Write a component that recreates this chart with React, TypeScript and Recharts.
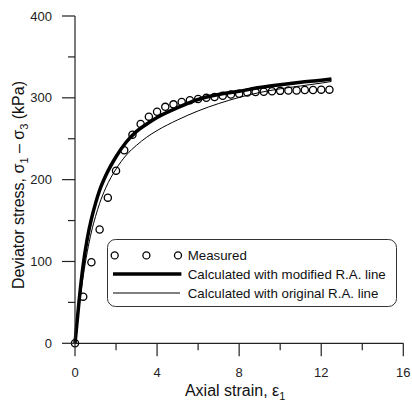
import React, { useLayoutEffect } from 'react';
import { ComposedChart, Line, Scatter, XAxis, YAxis, Legend, Label } from 'recharts';

function fixPage() {
  if (typeof document === 'undefined') return;
  document.documentElement.style.overflow = 'hidden';
  if (document.body) {
    document.body.style.width = '404px';
    document.body.style.minWidth = '404px';
  }
  const root = document.getElementById('root');
  if (root) {
    root.style.width = '404px';
  }
}
fixPage();

// Measured points (axial strain %, deviator stress kPa)
const measuredStrain = [0, 0.4, 0.8, 1.2, 1.6, 2.0, 2.4, 2.8, 3.2, 3.6, 4.0, 4.4, 4.8, 5.2, 5.6, 6.0, 6.4, 6.8, 7.2, 7.6, 8.0, 8.4, 8.8, 9.2, 9.6, 10.0, 10.4, 10.8, 11.2, 11.6, 12.0, 12.4];
const measuredStress = [0, 57, 99, 139, 178, 211, 236, 255, 268, 277, 283, 289, 292, 295, 297, 298.5, 300, 301, 302.5, 304, 305, 306.5, 307, 307.5, 308, 308.5, 309, 309, 309.5, 309.5, 310, 310];

// Calculated curves
const calcStrain = [0, 0.2, 0.4, 0.6, 0.8, 1.0, 1.2, 1.5, 2.0, 2.5, 3.0, 3.5, 4.0, 5.0, 6.0, 7.0, 8.0, 9.0, 10.0, 11.0, 12.0, 12.5];
const modifiedStress = [0, 52, 96, 128, 152, 171, 187, 205, 228, 246, 259, 268, 276, 288, 298, 304, 308, 312.5, 316, 319, 321.5, 323];
const originalStress = [0, 45, 82, 112, 136, 155, 171, 190, 213, 230, 242, 252, 260, 273, 284, 293, 300.5, 306.5, 311, 314.5, 318, 320];

const xTicks = [0, 2, 4, 6, 8, 10, 12, 14, 16];
const xLabeled = [0, 4, 8, 12, 16];
const yTicks = [0, 50, 100, 150, 200, 250, 300, 350, 400];
const yLabeled = [0, 100, 200, 300, 400];

const legendLabels = ['Measured', 'Calculated with modified R.A. line', 'Calculated with original R.A. line'];

const measuredData = measuredStrain.map((x, i) => ({ x, y: measuredStress[i] }));
const modifiedData = calcStrain.map((x, i) => ({ x, y: modifiedStress[i] }));
const originalData = calcStrain.map((x, i) => ({ x, y: originalStress[i] }));

const FONT = '"Liberation Sans", Arial, sans-serif';
const AXIS = '#222';
const MAJOR = 13;
const MINOR = 7;
const XGAP = 11;
const YGAP = 10;

function XTick(props: any) {
  const { x, y, payload } = props;
  const axisY = y - MAJOR - XGAP;
  const major = xLabeled.includes(payload.value);
  return (
    <g>
      <line x1={x} x2={x} y1={axisY} y2={axisY + (major ? MAJOR : MINOR)} stroke={AXIS} strokeWidth={1.2} />
      {major && (
        <text x={x} y={y} dy="0.71em" textAnchor="middle" fontSize={13} fill="#222" fontFamily={FONT}>
          {payload.value}
        </text>
      )}
    </g>
  );
}

function YTick(props: any) {
  const { x, y, payload } = props;
  const axisX = x + MAJOR + YGAP;
  const major = yLabeled.includes(payload.value);
  return (
    <g>
      <line x1={axisX} x2={axisX - (major ? MAJOR : MINOR)} y1={y} y2={y} stroke={AXIS} strokeWidth={1.2} />
      {major && (
        <text x={x} y={y} dy="0.355em" textAnchor="end" fontSize={13} fill="#222" fontFamily={FONT}>
          {payload.value}
        </text>
      )}
    </g>
  );
}

function XTitle(props: any) {
  const vb = props.viewBox || { x: 67, y: 335, width: 328, height: 60 };
  const cx = vb.x + vb.width / 2 - 4;
  const cy = vb.y + 52.7;
  return (
    <text x={cx} y={cy} textAnchor="middle" fontSize={16} fill="#111" fontFamily={FONT}>
      Axial strain, ε<tspan fontSize={11} dy={4}>1</tspan>
    </text>
  );
}

function YTitle(props: any) {
  const vb = props.viewBox || { x: 0, y: 8, width: 67, height: 327 };
  const cx = vb.x + 16.5;
  const cy = vb.y + vb.height / 2 + 5.4;
  return (
    <text x={cx} y={cy} textAnchor="middle" fontSize={16} fill="#111" fontFamily={FONT} transform={`rotate(-90, ${cx}, ${cy})`}>
      Deviator stress, σ<tspan fontSize={11} dy={4}>1</tspan>
      <tspan dy={-4}> – σ</tspan>
      <tspan fontSize={11} dy={4}>3</tspan>
      <tspan dy={-4}> (kPa)</tspan>
    </text>
  );
}

function LegendBox() {
  const w = 290;
  const h = 68;
  const tx = 80.7;
  return (
    <svg width={w} height={h} style={{ display: 'block', overflow: 'visible' }}>
      <rect x={0.5} y={0.5} width={w - 1} height={h - 1} rx={8} ry={8} fill="#fff" stroke="#333" strokeWidth={1} />
      {[7.7, 39.4, 71].map((cx) => (
        <circle key={cx} cx={cx} cy={16.4} r={3.5} fill="none" stroke="#000" strokeWidth={1.3} />
      ))}
      <line x1={6} x2={74.4} y1={35} y2={35} stroke="#000" strokeWidth={3.5} />
      <line x1={6} x2={73} y1={54} y2={54} stroke="#000" strokeWidth={1} />
      {legendLabels.map((t, i) => (
        <text key={t} x={tx} y={20.7 + i * 18.9} fontSize={13.3} fill="#111" fontFamily={FONT}>
          {t}
        </text>
      ))}
    </svg>
  );
}

export default function App() {
  useLayoutEffect(() => {
    fixPage();
  }, []);
  return (
    <div style={{ width: 404, height: 395, background: '#fff' }}>
      <ComposedChart width={404} height={395} margin={{ top: 8, right: 8.7, bottom: 0, left: 0 }}>
        <XAxis
          dataKey="x"
          type="number"
          domain={[0, 16]}
          ticks={xTicks}
          interval={0}
          height={59.7}
          tickSize={MAJOR}
          tickMargin={XGAP}
          tickLine={false}
          axisLine={{ stroke: AXIS, strokeWidth: 1.2 }}
          tick={<XTick />}
        >
          <Label content={<XTitle />} />
        </XAxis>
        <YAxis
          type="number"
          domain={[0, 400]}
          ticks={yTicks}
          interval={0}
          width={67}
          tickSize={MAJOR}
          tickMargin={YGAP}
          tickLine={false}
          axisLine={{ stroke: AXIS, strokeWidth: 1.2 }}
          tick={<YTick />}
        >
          <Label content={<YTitle />} />
        </YAxis>
        <Line data={originalData} dataKey="y" type="monotone" stroke="#000" strokeWidth={1} dot={false} isAnimationActive={false} />
        <Line data={modifiedData} dataKey="y" type="monotone" stroke="#000" strokeWidth={3.5} dot={false} isAnimationActive={false} />
        <Scatter
          data={measuredData}
          dataKey="y"
          isAnimationActive={false}
          shape={(p: any) => <circle cx={p.cx} cy={p.cy} r={3.6} fill="none" stroke="#000" strokeWidth={1.3} />}
        />
        <Legend
          layout="vertical"
          align="center"
          verticalAlign="middle"
          content={() => <LegendBox />}
          wrapperStyle={{ left: 99.3, top: 231.3, width: 290, height: 68 }}
        />
      </ComposedChart>
    </div>
  );
}
